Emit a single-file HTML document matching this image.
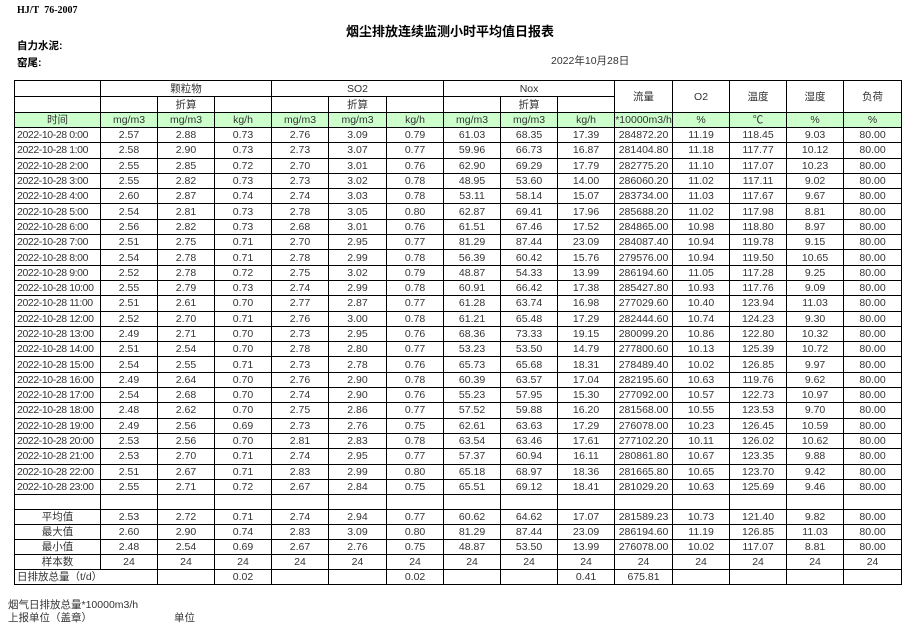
<!DOCTYPE html>
<html><head><meta charset="utf-8"><style>
body{margin:0;width:913px;height:634px;background:#fff;position:relative;font-family:"Liberation Sans","Noto Sans CJK SC",sans-serif;color:#333;overflow:hidden}
.a{position:absolute;white-space:nowrap}
table{position:absolute;left:14px;top:80px;border-collapse:collapse;table-layout:fixed;width:888px}
td{border:1px solid #000;padding:0;text-align:center;font-size:10.5px;line-height:12px;overflow:hidden;white-space:nowrap;vertical-align:middle}
tr.d td{height:14.3px}
tr.f td{height:14px}
tr.h td{height:15px}
tr.g td{background:#ccffcc;height:14px}
td.l{text-align:left;padding-left:2px}
tr.d td:first-child{text-align:left;padding-left:2px;letter-spacing:-0.4px}
</style></head><body>
<div class="a" style="left:17px;top:5px;font-size:10px;font-weight:bold;font-family:'Liberation Serif',serif;color:#000">HJ/T&nbsp;&nbsp;76-2007</div>
<div class="a" style="left:346px;top:21px;font-size:13px;font-weight:bold;color:#000">烟尘排放连续监测小时平均值日报表</div>
<div class="a" style="left:17px;top:38px;font-size:10.5px;font-weight:bold;color:#000">自力水泥:</div>
<div class="a" style="left:17px;top:55px;font-size:10.5px;font-weight:bold;color:#000">窑尾:</div>
<div class="a" style="left:551px;top:53px;font-size:10.5px">2022年10月28日</div>
<table>
<colgroup><col style="width:86px"><col style="width:57px"><col style="width:57px"><col style="width:57px"><col style="width:57px"><col style="width:58px"><col style="width:57px"><col style="width:57px"><col style="width:57px"><col style="width:57px"><col style="width:58px"><col style="width:57px"><col style="width:57px"><col style="width:57px"><col style="width:58px"></colgroup>
<tr class="h"><td></td><td colspan="3">颗粒物</td><td colspan="3">SO2</td><td colspan="3">Nox</td><td rowspan="2">流量</td><td rowspan="2">O2</td><td rowspan="2">温度</td><td rowspan="2">湿度</td><td rowspan="2">负荷</td></tr>
<tr class="h"><td></td><td></td><td>折算</td><td></td><td></td><td>折算</td><td></td><td></td><td>折算</td><td></td></tr>
<tr class="g"><td>时间</td><td>mg/m3</td><td>mg/m3</td><td>kg/h</td><td>mg/m3</td><td>mg/m3</td><td>kg/h</td><td>mg/m3</td><td>mg/m3</td><td>kg/h</td><td>*10000m3/h</td><td>%</td><td>℃</td><td>%</td><td>%</td></tr>
<tr class="d"><td>2022-10-28 0:00</td><td>2.57</td><td>2.88</td><td>0.73</td><td>2.76</td><td>3.09</td><td>0.79</td><td>61.03</td><td>68.35</td><td>17.39</td><td>284872.20</td><td>11.19</td><td>118.45</td><td>9.03</td><td>80.00</td></tr>
<tr class="d"><td>2022-10-28 1:00</td><td>2.58</td><td>2.90</td><td>0.73</td><td>2.73</td><td>3.07</td><td>0.77</td><td>59.96</td><td>66.73</td><td>16.87</td><td>281404.80</td><td>11.18</td><td>117.77</td><td>10.12</td><td>80.00</td></tr>
<tr class="d"><td>2022-10-28 2:00</td><td>2.55</td><td>2.85</td><td>0.72</td><td>2.70</td><td>3.01</td><td>0.76</td><td>62.90</td><td>69.29</td><td>17.79</td><td>282775.20</td><td>11.10</td><td>117.07</td><td>10.23</td><td>80.00</td></tr>
<tr class="d"><td>2022-10-28 3:00</td><td>2.55</td><td>2.82</td><td>0.73</td><td>2.73</td><td>3.02</td><td>0.78</td><td>48.95</td><td>53.60</td><td>14.00</td><td>286060.20</td><td>11.02</td><td>117.11</td><td>9.02</td><td>80.00</td></tr>
<tr class="d"><td>2022-10-28 4:00</td><td>2.60</td><td>2.87</td><td>0.74</td><td>2.74</td><td>3.03</td><td>0.78</td><td>53.11</td><td>58.14</td><td>15.07</td><td>283734.00</td><td>11.03</td><td>117.67</td><td>9.67</td><td>80.00</td></tr>
<tr class="d"><td>2022-10-28 5:00</td><td>2.54</td><td>2.81</td><td>0.73</td><td>2.78</td><td>3.05</td><td>0.80</td><td>62.87</td><td>69.41</td><td>17.96</td><td>285688.20</td><td>11.02</td><td>117.98</td><td>8.81</td><td>80.00</td></tr>
<tr class="d"><td>2022-10-28 6:00</td><td>2.56</td><td>2.82</td><td>0.73</td><td>2.68</td><td>3.01</td><td>0.76</td><td>61.51</td><td>67.46</td><td>17.52</td><td>284865.00</td><td>10.98</td><td>118.80</td><td>8.97</td><td>80.00</td></tr>
<tr class="d"><td>2022-10-28 7:00</td><td>2.51</td><td>2.75</td><td>0.71</td><td>2.70</td><td>2.95</td><td>0.77</td><td>81.29</td><td>87.44</td><td>23.09</td><td>284087.40</td><td>10.94</td><td>119.78</td><td>9.15</td><td>80.00</td></tr>
<tr class="d"><td>2022-10-28 8:00</td><td>2.54</td><td>2.78</td><td>0.71</td><td>2.78</td><td>2.99</td><td>0.78</td><td>56.39</td><td>60.42</td><td>15.76</td><td>279576.00</td><td>10.94</td><td>119.50</td><td>10.65</td><td>80.00</td></tr>
<tr class="d"><td>2022-10-28 9:00</td><td>2.52</td><td>2.78</td><td>0.72</td><td>2.75</td><td>3.02</td><td>0.79</td><td>48.87</td><td>54.33</td><td>13.99</td><td>286194.60</td><td>11.05</td><td>117.28</td><td>9.25</td><td>80.00</td></tr>
<tr class="d"><td>2022-10-28 10:00</td><td>2.55</td><td>2.79</td><td>0.73</td><td>2.74</td><td>2.99</td><td>0.78</td><td>60.91</td><td>66.42</td><td>17.38</td><td>285427.80</td><td>10.93</td><td>117.76</td><td>9.09</td><td>80.00</td></tr>
<tr class="d"><td>2022-10-28 11:00</td><td>2.51</td><td>2.61</td><td>0.70</td><td>2.77</td><td>2.87</td><td>0.77</td><td>61.28</td><td>63.74</td><td>16.98</td><td>277029.60</td><td>10.40</td><td>123.94</td><td>11.03</td><td>80.00</td></tr>
<tr class="d"><td>2022-10-28 12:00</td><td>2.52</td><td>2.70</td><td>0.71</td><td>2.76</td><td>3.00</td><td>0.78</td><td>61.21</td><td>65.48</td><td>17.29</td><td>282444.60</td><td>10.74</td><td>124.23</td><td>9.30</td><td>80.00</td></tr>
<tr class="d"><td>2022-10-28 13:00</td><td>2.49</td><td>2.71</td><td>0.70</td><td>2.73</td><td>2.95</td><td>0.76</td><td>68.36</td><td>73.33</td><td>19.15</td><td>280099.20</td><td>10.86</td><td>122.80</td><td>10.32</td><td>80.00</td></tr>
<tr class="d"><td>2022-10-28 14:00</td><td>2.51</td><td>2.54</td><td>0.70</td><td>2.78</td><td>2.80</td><td>0.77</td><td>53.23</td><td>53.50</td><td>14.79</td><td>277800.60</td><td>10.13</td><td>125.39</td><td>10.72</td><td>80.00</td></tr>
<tr class="d"><td>2022-10-28 15:00</td><td>2.54</td><td>2.55</td><td>0.71</td><td>2.73</td><td>2.78</td><td>0.76</td><td>65.73</td><td>65.68</td><td>18.31</td><td>278489.40</td><td>10.02</td><td>126.85</td><td>9.97</td><td>80.00</td></tr>
<tr class="d"><td>2022-10-28 16:00</td><td>2.49</td><td>2.64</td><td>0.70</td><td>2.76</td><td>2.90</td><td>0.78</td><td>60.39</td><td>63.57</td><td>17.04</td><td>282195.60</td><td>10.63</td><td>119.76</td><td>9.62</td><td>80.00</td></tr>
<tr class="d"><td>2022-10-28 17:00</td><td>2.54</td><td>2.68</td><td>0.70</td><td>2.74</td><td>2.90</td><td>0.76</td><td>55.23</td><td>57.95</td><td>15.30</td><td>277092.00</td><td>10.57</td><td>122.73</td><td>10.97</td><td>80.00</td></tr>
<tr class="d"><td>2022-10-28 18:00</td><td>2.48</td><td>2.62</td><td>0.70</td><td>2.75</td><td>2.86</td><td>0.77</td><td>57.52</td><td>59.88</td><td>16.20</td><td>281568.00</td><td>10.55</td><td>123.53</td><td>9.70</td><td>80.00</td></tr>
<tr class="d"><td>2022-10-28 19:00</td><td>2.49</td><td>2.56</td><td>0.69</td><td>2.73</td><td>2.76</td><td>0.75</td><td>62.61</td><td>63.63</td><td>17.29</td><td>276078.00</td><td>10.23</td><td>126.45</td><td>10.59</td><td>80.00</td></tr>
<tr class="d"><td>2022-10-28 20:00</td><td>2.53</td><td>2.56</td><td>0.70</td><td>2.81</td><td>2.83</td><td>0.78</td><td>63.54</td><td>63.46</td><td>17.61</td><td>277102.20</td><td>10.11</td><td>126.02</td><td>10.62</td><td>80.00</td></tr>
<tr class="d"><td>2022-10-28 21:00</td><td>2.53</td><td>2.70</td><td>0.71</td><td>2.74</td><td>2.95</td><td>0.77</td><td>57.37</td><td>60.94</td><td>16.11</td><td>280861.80</td><td>10.67</td><td>123.35</td><td>9.88</td><td>80.00</td></tr>
<tr class="d"><td>2022-10-28 22:00</td><td>2.51</td><td>2.67</td><td>0.71</td><td>2.83</td><td>2.99</td><td>0.80</td><td>65.18</td><td>68.97</td><td>18.36</td><td>281665.80</td><td>10.65</td><td>123.70</td><td>9.42</td><td>80.00</td></tr>
<tr class="d"><td>2022-10-28 23:00</td><td>2.55</td><td>2.71</td><td>0.72</td><td>2.67</td><td>2.84</td><td>0.75</td><td>65.51</td><td>69.12</td><td>18.41</td><td>281029.20</td><td>10.63</td><td>125.69</td><td>9.46</td><td>80.00</td></tr>
<tr class="f"><td></td><td></td><td></td><td></td><td></td><td></td><td></td><td></td><td></td><td></td><td></td><td></td><td></td><td></td><td></td></tr>
<tr class="f"><td>平均值</td><td>2.53</td><td>2.72</td><td>0.71</td><td>2.74</td><td>2.94</td><td>0.77</td><td>60.62</td><td>64.62</td><td>17.07</td><td>281589.23</td><td>10.73</td><td>121.40</td><td>9.82</td><td>80.00</td></tr>
<tr class="f"><td>最大值</td><td>2.60</td><td>2.90</td><td>0.74</td><td>2.83</td><td>3.09</td><td>0.80</td><td>81.29</td><td>87.44</td><td>23.09</td><td>286194.60</td><td>11.19</td><td>126.85</td><td>11.03</td><td>80.00</td></tr>
<tr class="f"><td>最小值</td><td>2.48</td><td>2.54</td><td>0.69</td><td>2.67</td><td>2.76</td><td>0.75</td><td>48.87</td><td>53.50</td><td>13.99</td><td>276078.00</td><td>10.02</td><td>117.07</td><td>8.81</td><td>80.00</td></tr>
<tr class="f"><td>样本数</td><td>24</td><td>24</td><td>24</td><td>24</td><td>24</td><td>24</td><td>24</td><td>24</td><td>24</td><td>24</td><td>24</td><td>24</td><td>24</td><td>24</td></tr>
<tr class="f"><td colspan="2" class="l">日排放总量（t/d）</td><td></td><td>0.02</td><td></td><td></td><td>0.02</td><td></td><td></td><td>0.41</td><td>675.81</td><td></td><td></td><td></td><td></td></tr>
</table>
<div class="a" style="left:8px;top:597px;font-size:10.5px">烟气日排放总量*10000m3/h</div>
<div class="a" style="left:8px;top:610px;font-size:10.5px">上报单位（盖章）</div>
<div class="a" style="left:174px;top:610px;font-size:10.5px">单位</div>
</body></html>
